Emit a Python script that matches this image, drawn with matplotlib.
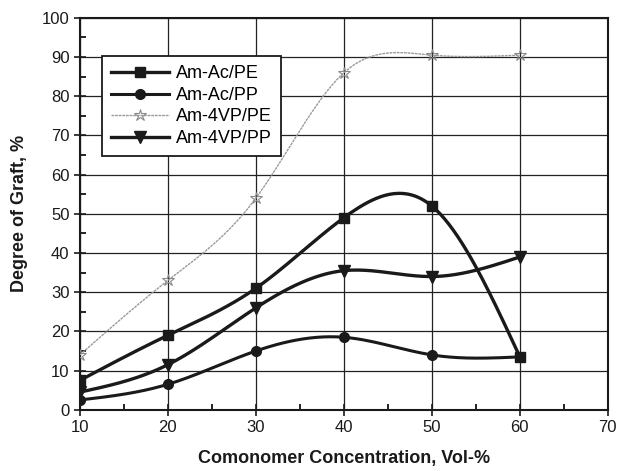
import numpy as np
import matplotlib
matplotlib.use("Agg")
from matplotlib import pyplot as plt
from matplotlib.ticker import MultipleLocator

plt.rcParams['font.family'] = ['Liberation Sans', 'DejaVu Sans']

conc = [10, 20, 30, 40, 50, 60]
ac_pe = [7.5, 19, 31, 49, 52, 13.5]
ac_pp = [2.5, 6.5, 15, 18.5, 14, 13.5]
vp_pe = [14, 33, 54, 86, 90.5, 90.5]
vp_pp = [4.5, 11.5, 26, 35.5, 34, 39]


def spline(x, y, n=200):
    # natural cubic spline through the measured points
    x = np.asarray(x, float)
    y = np.asarray(y, float)
    k = len(x)
    h = np.diff(x)
    A = np.zeros((k, k))
    b = np.zeros(k)
    A[0, 0] = A[-1, -1] = 1
    for i in range(1, k - 1):
        A[i, i - 1] = h[i - 1]
        A[i, i] = 2 * (h[i - 1] + h[i])
        A[i, i + 1] = h[i]
        b[i] = 6 * ((y[i + 1] - y[i]) / h[i] - (y[i] - y[i - 1]) / h[i - 1])
    m = np.linalg.solve(A, b)
    xs = np.linspace(x[0], x[-1], n)
    j = np.clip(np.searchsorted(x, xs) - 1, 0, k - 2)
    t0 = x[j + 1] - xs
    t1 = xs - x[j]
    hj = h[j]
    ys = (m[j] * t0 ** 3 + m[j + 1] * t1 ** 3) / (6 * hj) \
        + (y[j] / hj - m[j] * hj / 6) * t0 + (y[j + 1] / hj - m[j + 1] * hj / 6) * t1
    return xs, ys


fig = plt.figure(figsize=(6.19, 4.71), dpi=100)
ax = fig.add_axes([0.129, 0.13, 0.853, 0.832])

series = [
    ("Am-Ac/PE", ac_pe, dict(color="#1a1a1a", lw=2.4), dict(marker="s", ms=7, mfc="#1a1a1a", mec="#1a1a1a")),
    ("Am-Ac/PP", ac_pp, dict(color="#1a1a1a", lw=2.2), dict(marker="o", ms=7, mfc="#1a1a1a", mec="#1a1a1a")),
    ("Am-4VP/PE", vp_pe, dict(color="#9a9a9a", lw=1.0, ls=(0, (2, 0.6))), dict(marker="*", ms=9, mfc="none", mec="#8a8a8a", mew=0.8)),
    ("Am-4VP/PP", vp_pp, dict(color="#1a1a1a", lw=2.4), dict(marker="v", ms=8, mfc="#1a1a1a", mec="#1a1a1a")),
]

for name, vals, lstyle, mstyle in series:
    xs, ys = spline(conc, vals)
    ax.plot(xs, ys, zorder=3, **lstyle)
    ax.plot(conc, vals, ls="none", zorder=4, **mstyle)
    # legend handle: line + marker
    ax.plot([], [], label=name, **lstyle, **mstyle)

ax.set_xlim(10, 70)
ax.set_ylim(0, 100)
ax.xaxis.set_major_locator(MultipleLocator(10))
ax.xaxis.set_minor_locator(MultipleLocator(5))
ax.yaxis.set_major_locator(MultipleLocator(10))
ax.yaxis.set_minor_locator(MultipleLocator(5))
ax.grid(True, which="major", color="#222222", lw=0.9)
ax.tick_params(which="major", direction="inout", length=8, width=1.2, labelsize=12, colors="#1a1a1a")
ax.tick_params(which="minor", direction="in", length=4, width=1.2)
for s in ax.spines.values():
    s.set_linewidth(1.5)
    s.set_color("#1a1a1a")

ax.set_xlabel("Comonomer Concentration, Vol-%", fontsize=13, fontweight="bold", labelpad=11, color="#1a1a1a")
ax.set_ylabel("Degree of Graft, %", fontsize=13, fontweight="bold", labelpad=10, color="#1a1a1a")

leg = ax.legend(loc="upper left", bbox_to_anchor=(0.025, 0.925), fontsize=13, frameon=True,
                fancybox=False, edgecolor="#1a1a1a", framealpha=1, handlelength=3.2,
                borderpad=0.5, labelspacing=0.25, handletextpad=0.4)
leg.get_frame().set_linewidth(1.3)

fig.savefig("out.png", dpi=100)
